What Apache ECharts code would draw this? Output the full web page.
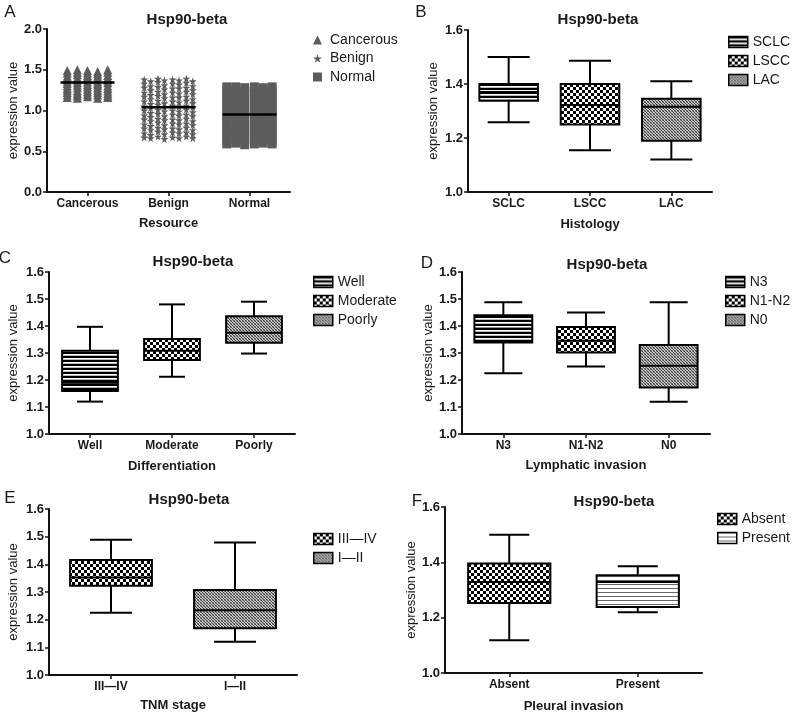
<!DOCTYPE html>
<html><head><meta charset="utf-8">
<script src="https://cdn.jsdelivr.net/npm/echarts@6/dist/echarts.min.js"></script>
<style>html,body{margin:0;padding:0;background:#fff}#c{width:800px;height:719px}</style>
</head><body><div id="c"></div>
<script>
// ---------------- DATA ----------------
const resourceCats = ['Cancerous', 'Benign', 'Normal'];
const cancerousOffsets = [-0.25, -0.125, 0, 0.125, 0.25];
const cancerousCols = [
  [1.16,1.19,1.22,1.25,1.27,1.30,1.33,1.36,1.39,1.42,1.46,1.49],
  [1.15,1.18,1.21,1.24,1.28,1.31,1.34,1.37,1.40,1.44,1.47,1.50],
  [1.17,1.20,1.23,1.26,1.29,1.32,1.35,1.38,1.41,1.43,1.46,1.49],
  [1.15,1.19,1.22,1.25,1.28,1.31,1.33,1.36,1.39,1.42,1.45,1.48],
  [1.16,1.18,1.21,1.24,1.27,1.30,1.34,1.37,1.40,1.43,1.47,1.50]
];
const benignOffsets = [-0.30, -0.22, -0.13, -0.05, 0.05, 0.13, 0.22, 0.30];
const benignCols = [
  [0.67,0.72,0.78,0.83,0.89,0.94,1.00,1.05,1.11,1.17,1.22,1.28,1.33,1.38],
  [0.66,0.70,0.76,0.81,0.87,0.92,0.97,1.03,1.08,1.14,1.19,1.25,1.30,1.36],
  [0.68,0.74,0.79,0.85,0.90,0.96,1.01,1.07,1.12,1.18,1.23,1.29,1.35,1.39],
  [0.65,0.71,0.77,0.82,0.88,0.93,0.99,1.04,1.09,1.15,1.20,1.26,1.31,1.37],
  [0.67,0.73,0.78,0.84,0.89,0.95,1.00,1.06,1.11,1.16,1.22,1.27,1.33,1.38],
  [0.66,0.72,0.77,0.83,0.88,0.94,0.99,1.05,1.10,1.16,1.21,1.27,1.32,1.37],
  [0.68,0.73,0.79,0.84,0.90,0.95,1.01,1.06,1.12,1.17,1.23,1.28,1.34,1.39],
  [0.66,0.71,0.76,0.82,0.87,0.93,0.98,1.04,1.09,1.14,1.20,1.25,1.30,1.36]
];
const normalOffsets = [-0.28, -0.17, -0.06, 0.06, 0.17, 0.28];
const normalCols = [
  [0.59,0.64,0.69,0.74,0.79,0.84,0.89,0.94,0.99,1.04,1.09,1.14,1.19,1.24,1.29],
  [0.60,0.65,0.70,0.75,0.80,0.85,0.91,0.96,1.01,1.06,1.11,1.16,1.21,1.25,1.29],
  [0.58,0.63,0.68,0.73,0.78,0.83,0.88,0.93,0.98,1.03,1.08,1.13,1.18,1.23,1.28],
  [0.59,0.65,0.70,0.75,0.80,0.86,0.90,0.95,1.00,1.05,1.10,1.15,1.20,1.24,1.29],
  [0.60,0.64,0.69,0.74,0.79,0.84,0.89,0.94,0.99,1.04,1.09,1.14,1.19,1.24,1.28],
  [0.59,0.63,0.68,0.73,0.78,0.83,0.88,0.93,0.98,1.03,1.08,1.13,1.18,1.23,1.29]
];
const resourceMeans = [1.345, 1.04, 0.95];

// box data: [min, Q1, median, Q3, max]
const histologyCats = ['SCLC', 'LSCC', 'LAC'];
const histologyBoxes = [[1.258,1.338,1.37,1.40,1.50],[1.155,1.25,1.322,1.40,1.486],[1.12,1.19,1.316,1.345,1.41]];
const diffCats = ['Well', 'Moderate', 'Poorly'];
const diffBoxes = [[1.12,1.159,1.19,1.308,1.397],[1.212,1.274,1.308,1.352,1.48],[1.298,1.338,1.375,1.436,1.49]];
const lymphCats = ['N3', 'N1-N2', 'N0'];
const lymphBoxes = [[1.225,1.339,1.39,1.44,1.488],[1.25,1.302,1.345,1.396,1.45],[1.119,1.172,1.253,1.33,1.488]];
const tnmCats = ['III\u2014IV', 'I\u2014II'];
const tnmBoxes = [[1.225,1.323,1.352,1.416,1.489],[1.12,1.169,1.234,1.307,1.479]];
const pleuralCats = ['Absent', 'Present'];
const pleuralBoxes = [[1.118,1.253,1.329,1.396,1.50],[1.22,1.239,1.329,1.353,1.386]];

// ---------------- PATTERNS ----------------
function makePattern(w, h, draw) {
  const c = document.createElement('canvas');
  c.width = w; c.height = h;
  const ctx = c.getContext('2d');
  draw(ctx);
  return { image: c, repeat: 'repeat' };
}
const patStripes = makePattern(1, 4, ctx => {
  ctx.fillStyle = '#000'; ctx.fillRect(0, 0, 1, 2);
  ctx.fillStyle = '#fff'; ctx.fillRect(0, 2, 1, 1);
  ctx.fillStyle = '#bbb'; ctx.fillRect(0, 3, 1, 1);
});
const patLightStripes = makePattern(1, 4, ctx => {
  ctx.fillStyle = '#fff'; ctx.fillRect(0, 0, 1, 4);
  ctx.fillStyle = '#666'; ctx.fillRect(0, 0, 1, 1);
});
const patChecker = makePattern(6, 6, ctx => {
  ctx.fillStyle = '#fff'; ctx.fillRect(0, 0, 6, 6);
  ctx.fillStyle = '#000'; ctx.fillRect(0, 0, 3, 3); ctx.fillRect(3, 3, 3, 3);
});
const patFine = makePattern(3, 3, ctx => {
  ctx.fillStyle = '#c8c8c8'; ctx.fillRect(0, 0, 3, 3);
  ctx.fillStyle = '#444'; ctx.fillRect(0, 0, 1, 1); ctx.fillRect(1, 1, 1, 1); ctx.fillRect(2, 2, 1, 1);
  ctx.fillStyle = '#888'; ctx.fillRect(2, 0, 1, 1); ctx.fillRect(0, 2, 1, 1);
});

// ---------------- LAYOUT ----------------
const FONT = '"Liberation Sans", Arial, Helvetica, sans-serif';
const grids = [
  { left: 47, top: 29, width: 243, height: 163 },
  { left: 468, top: 30, width: 244, height: 162 },
  { left: 49, top: 272, width: 246, height: 162 },
  { left: 462, top: 272, width: 248, height: 162 },
  { left: 49, top: 509, width: 248, height: 166 },
  { left: 445, top: 507, width: 257, height: 166 }
];

function catAxis(gridIndex, cats, name, nameGap) {
  return {
    type: 'category', gridIndex, data: cats, boundaryGap: true,
    name, nameLocation: 'middle', nameGap,
    nameTextStyle: { fontFamily: FONT, fontSize: 13, fontWeight: 'bold', color: '#1a1a1a' },
    axisLine: { show: true, onZero: false, lineStyle: { color: '#111', width: 2 } },
    axisTick: { show: true, alignWithLabel: true, length: 4, lineStyle: { color: '#111', width: 1.5 } },
    axisLabel: { fontFamily: FONT, fontSize: 12, fontWeight: 'bold', color: '#1a1a1a', margin: 6, interval: 0 },
    splitLine: { show: false }
  };
}
function valAxis(gridIndex, min, max, interval, nameGap) {
  return {
    type: 'value', gridIndex, min, max, interval,
    name: 'expression value', nameLocation: 'middle', nameGap, nameRotate: 90,
    nameTextStyle: { fontFamily: FONT, fontSize: 13, color: '#1a1a1a' },
    axisLine: { show: true, onZero: false, lineStyle: { color: '#111', width: 2 } },
    axisTick: { show: true, length: 4, lineStyle: { color: '#111', width: 1.5 } },
    axisLabel: { fontFamily: FONT, fontSize: 13, fontWeight: 'bold', color: '#1a1a1a', margin: 5,
      formatter: v => v.toFixed(1) },
    splitLine: { show: false }
  };
}

const xAxes = [
  catAxis(0, resourceCats, 'Resource', 25),
  { type: 'value', gridIndex: 0, min: -0.5, max: 2.5, show: false, axisLine: { onZero: false } },
  catAxis(1, histologyCats, 'Histology', 26),
  catAxis(2, diffCats, 'Differentiation', 26),
  catAxis(3, lymphCats, 'Lymphatic invasion', 25),
  catAxis(4, tnmCats, 'TNM stage', 24),
  catAxis(5, pleuralCats, 'Pleural invasion', 27)
];
const yAxes = [
  valAxis(0, 0, 2, 0.5, 25),
  valAxis(1, 1, 1.6, 0.2, 28),
  valAxis(2, 1, 1.6, 0.1, 29),
  valAxis(3, 1, 1.6, 0.1, 23),
  valAxis(4, 1, 1.6, 0.1, 29),
  valAxis(5, 1, 1.6, 0.2, 25)
];

// ---------------- SERIES ----------------
const GREY = '#5c5c5c';
function colsToPoints(cols, offsets, catIndex) {
  const pts = [];
  cols.forEach((col, i) => col.forEach(v => pts.push([catIndex + offsets[i], v])));
  return pts;
}
const starPath = 'path://M50,0 L61,35 L98,35 L68,57 L79,91 L50,70 L21,91 L32,57 L2,35 L39,35 Z';
const series = [
  { name: 'Cancerous', type: 'scatter', xAxisIndex: 1, yAxisIndex: 0, symbol: 'triangle', symbolSize: 9,
    itemStyle: { color: GREY, opacity: 1 }, data: colsToPoints(cancerousCols, cancerousOffsets, 0), silent: true },
  { name: 'Benign', type: 'scatter', xAxisIndex: 1, yAxisIndex: 0, symbol: starPath, symbolSize: 8,
    itemStyle: { color: GREY, opacity: 1 }, data: colsToPoints(benignCols, benignOffsets, 1), silent: true },
  { name: 'Normal', type: 'scatter', xAxisIndex: 1, yAxisIndex: 0, symbol: 'rect', symbolSize: 9,
    itemStyle: { color: GREY, opacity: 1 }, data: colsToPoints(normalCols, normalOffsets, 2), silent: true },
  { name: 'mean', type: 'scatter', xAxisIndex: 1, yAxisIndex: 0, symbol: 'rect', symbolSize: [54, 2.5],
    itemStyle: { color: '#000', opacity: 1 }, z: 5, silent: true,
    data: resourceMeans.map((m, i) => [i, m]) }
];

function boxRenderer(halfBoxFrac, capHalfPx, pattern) {
  return function (params, api) {
    const x = api.value(0);
    const bw = api.size([1, 0])[0];
    const hb = bw * halfBoxFrac;
    const pMin = api.coord([x, api.value(1)]);
    const pQ1 = api.coord([x, api.value(2)]);
    const pMed = api.coord([x, api.value(3)]);
    const pQ3 = api.coord([x, api.value(4)]);
    const pMax = api.coord([x, api.value(5)]);
    const cx = pMin[0];
    const ls = { stroke: '#000', lineWidth: 2 };
    return { type: 'group', children: [
      { type: 'line', shape: { x1: cx, y1: pMax[1], x2: cx, y2: pQ3[1] }, style: ls },
      { type: 'line', shape: { x1: cx, y1: pQ1[1], x2: cx, y2: pMin[1] }, style: ls },
      { type: 'line', shape: { x1: cx - capHalfPx, y1: pMax[1], x2: cx + capHalfPx, y2: pMax[1] }, style: ls },
      { type: 'line', shape: { x1: cx - capHalfPx, y1: pMin[1], x2: cx + capHalfPx, y2: pMin[1] }, style: ls },
      { type: 'rect', shape: { x: cx - hb, y: pQ3[1], width: 2 * hb, height: pQ1[1] - pQ3[1] },
        style: { fill: pattern, stroke: '#000', lineWidth: 2 } },
      { type: 'line', shape: { x1: cx - hb, y1: pMed[1], x2: cx + hb, y2: pMed[1] }, style: ls }
    ] };
  };
}
function addBoxes(axisIdx, cats, boxes, patterns, halfFrac, capHalf) {
  cats.forEach((c, i) => {
    series.push({
      name: c, type: 'custom', xAxisIndex: axisIdx.x, yAxisIndex: axisIdx.y,
      encode: { x: 0, y: [1, 2, 3, 4, 5] },
      itemStyle: { color: patterns[i], borderColor: '#000', borderWidth: 1.5 },
      renderItem: boxRenderer(halfFrac, capHalf, patterns[i]),
      data: [[i].concat(boxes[i])], silent: true
    });
  });
}
addBoxes({ x: 2, y: 1 }, histologyCats, histologyBoxes, [patStripes, patChecker, patFine], 0.36, 21);
addBoxes({ x: 3, y: 2 }, diffCats, diffBoxes, [patStripes, patChecker, patFine], 0.34, 13);
addBoxes({ x: 4, y: 3 }, lymphCats, lymphBoxes, [patStripes, patChecker, patFine], 0.35, 19);
addBoxes({ x: 5, y: 4 }, tnmCats, tnmBoxes, [patChecker, patFine], 0.33, 21);
addBoxes({ x: 6, y: 5 }, pleuralCats, pleuralBoxes, [patChecker, patLightStripes], 0.32, 20);

// ---------------- LEGENDS ----------------
function boxLegend(names, left, top) {
  return {
    data: names, orient: 'vertical', left, top, padding: 0, itemGap: 5,
    itemWidth: 19, itemHeight: 11, icon: 'rect', selectedMode: false,
    itemStyle: { borderColor: '#000', borderWidth: 1.5 },
    textStyle: { fontFamily: FONT, fontSize: 14, color: '#1a1a1a', lineHeight: 14 }
  };
}
const legends = [
  { data: resourceCats, orient: 'vertical', left: 313, top: 33, padding: 0, itemGap: 4.5,
    itemWidth: 9, itemHeight: 9, selectedMode: false,
    textStyle: { fontFamily: FONT, fontSize: 14, color: '#1a1a1a', lineHeight: 14, padding: [0, 0, 0, 3] } },
  boxLegend(histologyCats, 728, 35),
  boxLegend(diffCats, 313, 275),
  boxLegend(lymphCats, 725, 275),
  boxLegend(tnmCats, 313, 532),
  boxLegend(pleuralCats, 717, 512)
];

// ---------------- TEXTS ----------------
const titleText = 'Hsp90-beta';
const titlePos = [[187, 20], [598, 20], [193, 262], [607, 265], [189, 500], [614, 502]];
const letters = ['A', 'B', 'C', 'D', 'E', 'F'];
const letterPos = [[10, 12], [421, 12], [5, 258], [427, 263], [10, 498], [417, 501]];
const graphic = [];
titlePos.forEach(p => graphic.push({ type: 'text', x: p[0], y: p[1], silent: true,
  style: { text: titleText, font: 'bold 15px ' + FONT, fill: '#1a1a1a',
    align: 'center', verticalAlign: 'middle', textAlign: 'center', textVerticalAlign: 'middle' } }));
letters.forEach((l, i) => graphic.push({ type: 'text', x: letterPos[i][0], y: letterPos[i][1], silent: true,
  style: { text: l, font: '17px ' + FONT, fill: '#1a1a1a',
    align: 'center', verticalAlign: 'middle', textAlign: 'center', textVerticalAlign: 'middle' } }));

const chart = echarts.init(document.getElementById('c'), null, { renderer: 'canvas' });
chart.setOption({
  backgroundColor: '#fff',
  animation: false,
  grid: grids,
  xAxis: xAxes,
  yAxis: yAxes,
  legend: legends,
  series,
  graphic
});
</script></body></html>
